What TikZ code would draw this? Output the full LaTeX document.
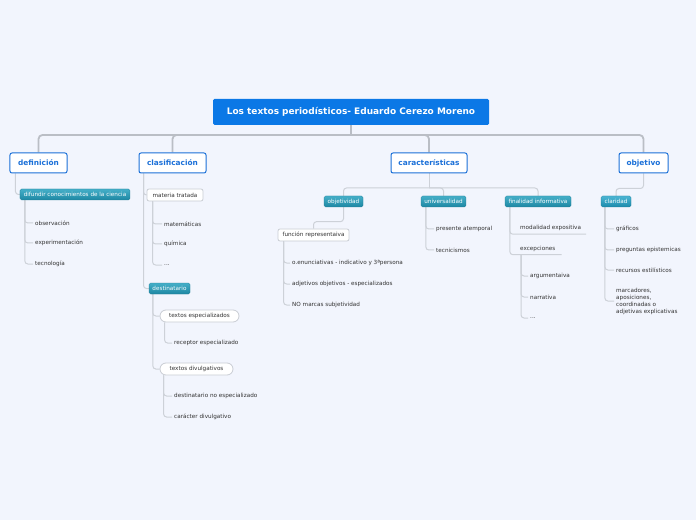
\documentclass[tikz,border=0pt]{standalone}
\usepackage{fontspec}
\setmainfont{DejaVu Sans}
\usetikzlibrary{backgrounds}
\definecolor{bgc}{HTML}{F2F5FD}
\definecolor{rootc}{HTML}{0B78E6}
\definecolor{lvlc}{HTML}{1B70D8}
\definecolor{tealt}{HTML}{45AFC8}
\definecolor{tealb}{HTML}{1D87A3}
\definecolor{tealc}{HTML}{2B98B6}
\definecolor{clarc}{HTML}{1FA3C9}
\definecolor{lnc}{HTML}{BABEC5}
\definecolor{lnl}{HTML}{CDD1D8}
\definecolor{txc}{HTML}{333333}
\definecolor{bxb}{HTML}{C9CDD4}
\tikzset{
  rootbox/.style={fill=rootc, rounded corners=1.5bp, text=white, font=\bfseries\fontsize{9}{10}\selectfont, minimum width=276bp, minimum height=26bp, inner sep=0pt},
  lvlbox/.style={fill=white, draw=lvlc, line width=1bp, rounded corners=2bp, text=lvlc, font=\bfseries\fontsize{7.4}{8.5}\selectfont, minimum height=20bp, inner sep=0pt},
  tealbox/.style={top color=tealt, bottom color=tealb, draw=tealc!80!black, line width=0.3bp, rounded corners=1.5bp, text=white, font=\fontsize{5.7}{6.8}\selectfont, minimum height=11bp, inner sep=0pt},
  clarbox/.style={tealbox, top color=clarc!80!white, bottom color=clarc!85!black},
  whitebox/.style={fill=white, draw=bxb, line width=0.8bp, rounded corners=2bp, text=txc, font=\fontsize{5.7}{6.8}\selectfont, minimum height=12bp, inner sep=0pt},
  pillbox/.style={whitebox, rounded corners=6bp},
  leaf/.style={anchor=west, text=txc, font=\fontsize{5.7}{6.8}\selectfont, inner xsep=2bp, inner ysep=1bp},
  uleaf/.style={anchor=west, text=txc, font=\fontsize{5.7}{6.8}\selectfont, inner xsep=0pt, inner ysep=0pt, minimum height=12bp},
  rconn/.style={draw=lnc, line width=1.8bp, rounded corners=4bp},
  conn/.style={draw=lnl, line width=1bp, rounded corners=3bp},
}
\begin{document}
\begin{tikzpicture}[x=1bp,y=-1bp]
\useasboundingbox (0,0) rectangle (696,520);
\coordinate (hub) at (351,135);
\coordinate (chub) at (429,188);

% root and level 1
\node[rootbox] (root) at (351,112) {Los textos periodísticos- Eduardo Cerezo Moreno};
\node[lvlbox, minimum width=57bp] (defn) at (38.5,163) {definición};
\node[lvlbox, minimum width=67bp] (clas) at (172.5,163) {clasificación};
\node[lvlbox, minimum width=76bp] (car) at (429,163) {características};
\node[lvlbox, minimum width=49bp] (obj) at (643.5,163) {objetivo};

% definicion
\node[tealbox, minimum width=110bp] (dif) at (75,194.5) {difundir conocimientos de la ciencia};
\node[leaf] (obs) at (33,223) {observación};
\node[leaf] (exper) at (33,243) {experimentación};
\node[leaf] (tec) at (33,264) {tecnología};

% clasificacion
\node[whitebox, minimum width=56bp] (mat) at (175,195) {materia tratada};
\node[tealbox, minimum width=41bp] (dest) at (169.5,288.5) {destinatario};
\node[leaf] (mate) at (162,224) {matemáticas};
\node[leaf] (quim) at (162,244) {química};
\node[leaf] (etc1) at (162,265) {...};
\node[pillbox, minimum width=79bp] (tesp) at (199.5,316) {textos especializados};
\node[pillbox, minimum width=73bp] (tdiv) at (196.5,369) {textos divulgativos};
\node[leaf] (rece) at (172,343) {receptor especializado};
\node[leaf] (dnoe) at (172,396) {destinatario no especializado};
\node[leaf] (cdiv) at (172,417) {carácter divulgativo};

% caracteristicas
\node[tealbox, minimum width=39bp] (objv) at (343.5,201.5) {objetividad};
\node[tealbox, minimum width=45bp] (univ) at (443.5,201.5) {universalidad};
\node[tealbox, minimum width=66bp] (fin) at (538,201.5) {finalidad informativa};
\node[whitebox, minimum width=71bp] (func) at (313.5,235) {función representaiva};
\node[leaf] (oenu) at (290,263) {o.enunciativas - indicativo y 3ªpersona};
\node[leaf] (adjo) at (290,284) {adjetivos objetivos - especializados};
\node[leaf] (noms) at (290,305) {NO marcas subjetividad};
\node[leaf] (pres) at (434,229) {presente atemporal};
\node[leaf] (tecn) at (434,250) {tecnicismos};
\node[uleaf] (moda) at (520,228) {modalidad expositiva};
\node[uleaf] (exce) at (520,248.5) {excepciones};
\node[leaf] (argu) at (528,276) {argumentaiva};
\node[leaf] (narr) at (528,297) {narrativa};
\node[leaf] (etc2) at (528,318) {...};

% objetivo
\node[clarbox, minimum width=30bp] (clar) at (616,201.5) {claridad};
\node[leaf] (graf) at (614,229) {gráficos};
\node[leaf] (preg) at (614,250) {preguntas epistemicas};
\node[leaf] (recu) at (614,270) {recursos estilísticos};
\node[leaf, align=left, font=\fontsize{5.7}{7}\selectfont] (marc) at (614,301) {marcadores,\\aposiciones,\\coordinadas o\\adjetivas explicativas};

\begin{scope}[on background layer]
\fill[bgc] (0,0) rectangle (696,520);
\draw[rconn] (hub) -| (defn.north);
\draw[rconn] (hub) -| (obj.north);
\draw[rconn] (hub) -| (clas.north);
\draw[rconn] (hub) -| (car.north);
\draw[rconn] (root.south) -- (hub);

\draw[conn] ([xshift=6bp]defn.south west) |- (dif.west);
\foreach \n in {obs,exper,tec}{\draw[conn] ([xshift=5bp]dif.south west) |- (\n.west);}

\draw[conn] ([xshift=5bp]clas.south west) |- (mat.west);
\draw[conn] ([xshift=5bp]clas.south west) |- (dest.west);
\foreach \n in {mate,quim,etc1}{\draw[conn] ([xshift=6bp]mat.south west) |- (\n.west);}
\draw[conn] ([xshift=4bp]dest.south west) |- (tesp.west);
\draw[conn] ([xshift=4bp]dest.south west) |- (tdiv.west);
\draw[conn] ([xshift=5bp]tesp.south west) |- (rece.west);
\draw[conn] ([xshift=4bp]tdiv.south west) |- (dnoe.west);
\draw[conn] ([xshift=4bp]tdiv.south west) |- (cdiv.west);

\draw[conn] (car.south) -- (chub);
\draw[conn] (chub) -| (objv.north);
\draw[conn] (chub) -| (univ.north);
\draw[conn] (chub) -| (fin.north);
\draw[conn] (objv.south) -- ++(0,14.5) -| (func.north);
\foreach \n in {oenu,adjo,noms}{\draw[conn] ([xshift=6bp]func.south west) |- (\n.west);}
\foreach \n in {pres,tecn}{\draw[conn] ([xshift=5bp]univ.south west) |- (\n.west);}
\draw[conn] ([xshift=5bp]fin.south west) |- ([xshift=5bp]moda.south east);
\draw[conn] ([xshift=5bp]fin.south west) |- ([xshift=6bp]exce.south east);
\foreach \n in {argu,narr,etc2}{\draw[conn] ([xshift=1bp]exce.south west) |- (\n.west);}

\draw[conn] (obj.south) -- ++(0,15) -| (clar.north);
\foreach \n in {graf,preg,recu,marc}{\draw[conn] ([xshift=4bp]clar.south west) |- (\n.west);}
\end{scope}
\end{tikzpicture}
\end{document}
